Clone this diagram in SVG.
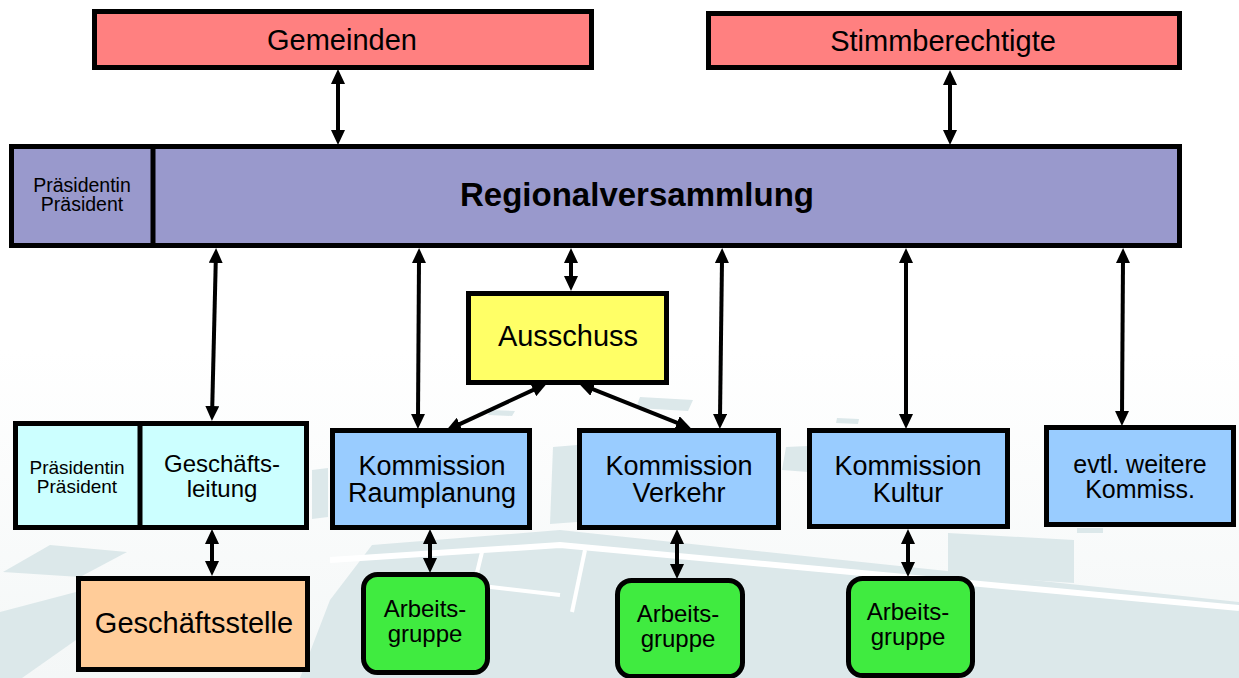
<svg xmlns="http://www.w3.org/2000/svg" width="1239" height="678" viewBox="0 0 1239 678">
<defs>
<style>
.box{stroke:#000;stroke-width:5}
.t{font-family:"Liberation Sans",Arial,sans-serif;fill:#000;text-anchor:middle}
.map{fill:#DCE8EA}
.road{stroke:#FFFFFF;fill:none}
.conn line{stroke:#000;stroke-width:4;marker-start:url(#ah);marker-end:url(#ah)}
</style>
<linearGradient id="bgfade" x1="0" y1="0" x2="0" y2="1">
<stop offset="0" stop-color="#FFFFFF"/>
<stop offset="1" stop-color="#F4F7F7"/>
</linearGradient>
<marker id="ah" viewBox="0 0 15 14" refX="3" refY="7" markerWidth="15" markerHeight="14" markerUnits="userSpaceOnUse" orient="auto-start-reverse">
<path d="M0,0 L15,7 L0,14 z" fill="#000"/>
</marker>
</defs>
<rect x="0" y="0" width="1239" height="678" fill="#FFFFFF"/>
<g id="background">
<rect x="0" y="350" width="1239" height="328" fill="url(#bgfade)"/>
<polygon class="map" points="3,572 50,545 127,552 80,577"/>
<polygon class="map" points="0,612 76,592 76,640 22,678 0,678"/>
<polygon class="map" points="300,678 330,600 372,545 560,530 1239,602 1239,678"/>
<polygon class="map" points="948,533 1074,540 1074,583 948,575"/>
<polygon class="map" points="312,470 328,468 328,517 312,519"/>
<polygon class="map" points="553,447 577,445 577,522 550,524"/>
<polygon class="map" points="640,397 693,400 688,411 636,408"/>
<polygon class="map" points="490,410 515,411 512,416 488,415"/>
<polygon class="map" points="786,447 808,446 808,472 782,470"/>
<polygon class="map" points="837,418 859,419 858,424 836,423"/>
<polygon class="map" points="1077,528 1103,528 1103,533 1077,533"/>
<polyline class="road" stroke-width="6" points="330,560 560,545 1239,608"/>
<polyline class="road" stroke-width="4" points="482,552 474,585 560,595"/>
<polyline class="road" stroke-width="4" points="585,550 572,612"/>
</g>
<g id="gemeinden">
<rect class="box" x="94.5" y="11.5" width="497" height="56" fill="#FF8080"/>
<text class="t" x="342" y="50" font-size="29">Gemeinden</text>
</g>
<g id="stimmberechtigte">
<rect class="box" x="708.5" y="13.5" width="471" height="54" fill="#FF8080"/>
<text class="t" x="943" y="51" font-size="29">Stimmberechtigte</text>
</g>
<g id="regionalversammlung">
<rect class="box" x="11.5" y="146.5" width="1168" height="99" fill="#9999CC"/>
<line x1="153" y1="146.5" x2="153" y2="245.5" stroke="#000" stroke-width="5"/>
<text class="t" x="82" y="192" font-size="19.5">Präsidentin</text>
<text class="t" x="82" y="211" font-size="19.5">Präsident</text>
<text class="t" x="637" y="206" font-size="33" font-weight="bold">Regionalversammlung</text>
</g>
<g id="ausschuss">
<rect class="box" x="468.5" y="293.5" width="198" height="89" fill="#FFFF66"/>
<text class="t" x="568" y="346" font-size="29">Ausschuss</text>
</g>
<g id="geschaeftsleitung">
<rect class="box" x="15.5" y="423.5" width="291" height="104" fill="#CCFFFF"/>
<line x1="140" y1="423.5" x2="140" y2="527.5" stroke="#000" stroke-width="5"/>
<text class="t" x="77" y="474" font-size="19">Präsidentin</text>
<text class="t" x="77" y="493" font-size="19">Präsident</text>
<text class="t" x="222" y="472" font-size="24">Geschäfts-</text>
<text class="t" x="222" y="497" font-size="24">leitung</text>
</g>
<g id="kommission-raumplanung">
<rect class="box" x="332.5" y="430.5" width="197" height="97" fill="#99CCFF"/>
<text class="t" x="432" y="475" font-size="27">Kommission</text>
<text class="t" x="432" y="502" font-size="27">Raumplanung</text>
</g>
<g id="kommission-verkehr">
<rect class="box" x="579.5" y="430.5" width="199" height="97" fill="#99CCFF"/>
<text class="t" x="679" y="475" font-size="27">Kommission</text>
<text class="t" x="679" y="502" font-size="27">Verkehr</text>
</g>
<g id="kommission-kultur">
<rect class="box" x="809.5" y="430.5" width="198" height="96" fill="#99CCFF"/>
<text class="t" x="908" y="475" font-size="27">Kommission</text>
<text class="t" x="908" y="502" font-size="27">Kultur</text>
</g>
<g id="weitere-kommissionen">
<rect class="box" x="1046.5" y="427.5" width="187" height="97" fill="#99CCFF"/>
<text class="t" x="1140" y="473" font-size="25">evtl. weitere</text>
<text class="t" x="1140" y="498" font-size="25">Kommiss.</text>
</g>
<g id="geschaeftsstelle">
<rect class="box" x="78.5" y="578.5" width="229" height="91" fill="#FFCC99"/>
<text class="t" x="194" y="633" font-size="29">Geschäftsstelle</text>
</g>
<g id="arbeitsgruppe-1">
<rect class="box" x="363.5" y="574.5" width="124" height="98" rx="14" fill="#40EB40"/>
<text class="t" x="425" y="617" font-size="24">Arbeits-</text>
<text class="t" x="425" y="642" font-size="24">gruppe</text>
</g>
<g id="arbeitsgruppe-2">
<rect class="box" x="617.5" y="580.5" width="125" height="96" rx="14" fill="#40EB40"/>
<text class="t" x="678" y="622" font-size="24">Arbeits-</text>
<text class="t" x="678" y="647" font-size="24">gruppe</text>
</g>
<g id="arbeitsgruppe-3">
<rect class="box" x="848.5" y="578.5" width="124" height="97" rx="14" fill="#40EB40"/>
<text class="t" x="908" y="620" font-size="24">Arbeits-</text>
<text class="t" x="908" y="645" font-size="24">gruppe</text>
</g>
<g id="connectors" class="conn">
<line x1="338" y1="81" x2="338" y2="133"/>
<line x1="950" y1="82" x2="950" y2="133"/>
<line x1="215.8" y1="260" x2="212.2" y2="409"/>
<line x1="419" y1="260" x2="418" y2="417"/>
<line x1="571" y1="260" x2="571" y2="279"/>
<line x1="722" y1="260" x2="720" y2="417"/>
<line x1="906" y1="260" x2="906" y2="417"/>
<line x1="1123" y1="260" x2="1122" y2="414"/>
<line x1="536" y1="388.6" x2="457" y2="425.4"/>
<line x1="590.2" y1="388.1" x2="679.8" y2="423.9"/>
<line x1="212" y1="541" x2="212" y2="564"/>
<line x1="430" y1="541" x2="430" y2="561"/>
<line x1="677" y1="541" x2="677" y2="567"/>
<line x1="908" y1="541" x2="908" y2="565"/>
</g>
</svg>
